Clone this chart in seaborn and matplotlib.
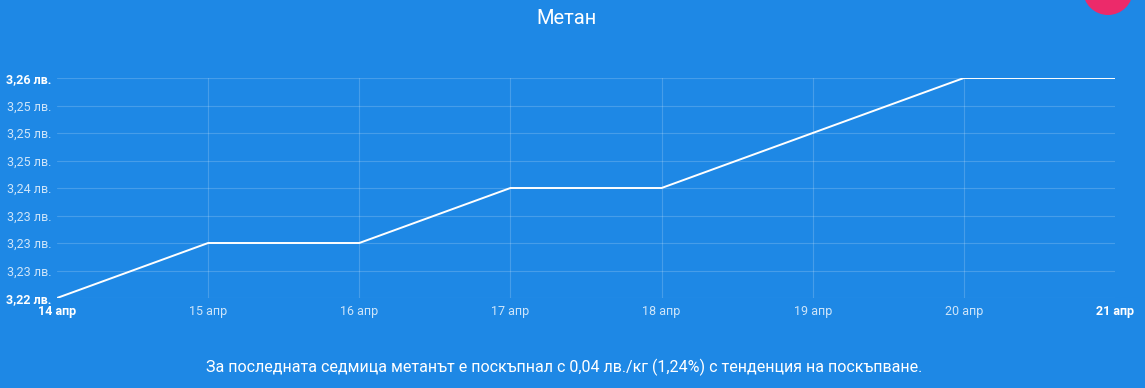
import matplotlib
matplotlib.use("Agg")
import matplotlib.pyplot as plt
import seaborn as sns
import pandas as pd
from matplotlib.patches import Circle

# Data
dates = ["14 апр", "15 апр", "16 апр", "17 апр", "18 апр", "19 апр", "20 апр", "21 апр"]
prices = [3.22, 3.23, 3.23, 3.24, 3.24, 3.25, 3.26, 3.26]
y_ticks = [3.22, 3.225, 3.23, 3.235, 3.24, 3.245, 3.25, 3.255, 3.26]
y_labels = ["3,22 лв.", "3,23 лв.", "3,23 лв.", "3,23 лв.", "3,24 лв.", "3,25 лв.", "3,25 лв.", "3,25 лв.", "3,26 лв."]
title = "Метан"
footer = "За последната седмица метанът е поскъпнал с 0,04 лв./кг (1,24%) с тенденция на поскъпване."

BG = "#1E88E5"
sns.set_theme(style="white")
plt.rcParams["font.family"] = ["Roboto", "DejaVu Sans"]

df = pd.DataFrame({"idx": range(len(dates)), "price": prices})

fig = plt.figure(figsize=(11.45, 3.88), dpi=100, facecolor=BG)
ax = fig.add_axes([57 / 1145, 1 - 298 / 388, (1115 - 57) / 1145, (298 - 78) / 388])
ax.set_facecolor(BG)

sns.lineplot(data=df, x="idx", y="price", ax=ax, color="white", linewidth=1.4)

ax.set_xlim(0, len(dates) - 1)
ax.set_ylim(y_ticks[0], y_ticks[-1])
ax.set_xticks(range(len(dates)))
ax.set_xticklabels(dates)
ax.set_yticks(y_ticks)
ax.set_yticklabels(y_labels)
ax.set_xlabel("")
ax.set_ylabel("")

for s in ax.spines.values():
    s.set_visible(False)

grid_c = (1, 1, 1, 0.18)
for yv in y_ticks:
    ax.axhline(yv, color=grid_c, linewidth=0.8, zorder=0)
for xv in range(1, len(dates) - 1):
    ax.axvline(xv, color=grid_c, linewidth=0.8, zorder=0)

ax.tick_params(axis="both", length=0, labelsize=9)
ax.tick_params(axis="y", pad=4)
ax.tick_params(axis="x", pad=5)
light = (1, 1, 1, 0.78)
for i, lab in enumerate(ax.get_yticklabels()):
    if i in (0, len(y_ticks) - 1):
        lab.set_color("white")
        lab.set_fontweight("bold")
    else:
        lab.set_color(light)
for i, lab in enumerate(ax.get_xticklabels()):
    if i in (0, len(dates) - 1):
        lab.set_color("white")
        lab.set_fontweight("bold")
    else:
        lab.set_color(light)

fig.text(566 / 1145, 1 - 18 / 388, title, color="white", fontsize=14.5,
         ha="center", va="center")
fig.text(564 / 1145, 1 - 367 / 388, footer, color="white", fontsize=11.5,
         ha="center", va="center")

circ = Circle((11.08, 3.98), 0.25, transform=fig.dpi_scale_trans,
              facecolor="#EC2A6A", edgecolor="none", zorder=10)
fig.patches.append(circ)

fig.savefig("out.png", dpi=100, facecolor=BG)
